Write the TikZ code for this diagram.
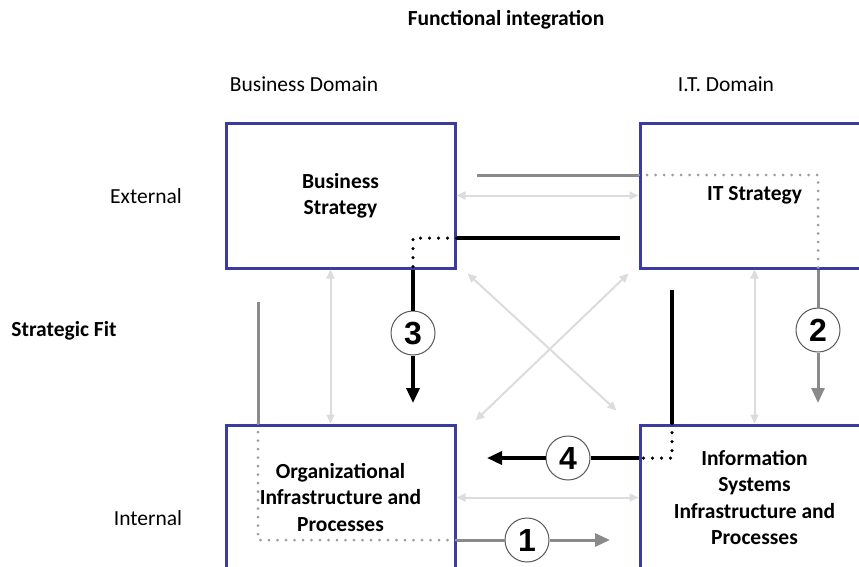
\documentclass[tikz,border=0pt]{standalone}
\usepackage{fontspec}
\setmainfont{Carlito}
\newfontfamily\numfont{Liberation Sans}
\usetikzlibrary{arrows.meta}

\definecolor{boxblue}{HTML}{3C3C9E}
\definecolor{midgray}{HTML}{8A8A8A}
\definecolor{palegray}{HTML}{DCDCDC}

\begin{document}
\begin{tikzpicture}[x=1pt,y=-1pt,>={Triangle[length=15pt,width=13pt]},
                    font=\fontsize{21.5}{26}\selectfont]
  \tikzstyle{dombox}=[draw=boxblue,line width=3pt,fill=white,
                      minimum width=229pt,minimum height=145pt,align=center,
                      font=\fontsize{21.5}{26.3}\selectfont\bfseries]
  \tikzstyle{numdisk}=[circle,draw=black!65,line width=1pt,fill=white,
                   minimum size=44pt,inner sep=0pt,
                   font=\numfont\fontsize{32}{32}\selectfont\bfseries]
  \tikzstyle{fitlink}=[draw=palegray,line width=2pt,
                    arrows={Triangle[length=9pt,width=8pt]-Triangle[length=9pt,width=8pt]}]
  \tikzstyle{gline}=[draw=midgray,line width=3pt]
  \tikzstyle{bline}=[draw=black,line width=3.5pt]
  \tikzstyle{gdots}=[draw=midgray!85,line width=3pt,line cap=round,
                     dash pattern=on 0pt off 8.5pt]
  \tikzstyle{bdots}=[draw=black,line width=3.5pt,line cap=round,
                     dash pattern=on 0pt off 9pt]

  \useasboundingbox (0,0) rectangle (859,566);
  \clip (0,0) rectangle (859,566);

  % headings
  \node (title) at (506,20)  {\bfseries Functional integration};
  \node (bdom)  at (304,84)  {Business Domain};
  \node (itdom) at (726,84)  {I.T. Domain};
  \node (ext)   at (146,196) {External};
  \node (fit)   at (64,331)  {\bfseries Strategic Fit};
  \node (int)   at (148,518) {Internal};

  % the four domains
  \node[dombox] (BS)  at (340.5,195.5) {Business\\Strategy};
  \node[dombox] (ITS) at (754.5,195.5) {IT Strategy};
  \node[dombox] (OI)  at (340.5,497.5) {Organizational\\Infrastructure and\\Processes};
  \node[dombox] (IS)  at (754.5,497.5) {Information\\Systems\\Infrastructure and\\Processes};

  % links between domains
  \draw[fitlink] (BS.east) -- (ITS.west);
  \draw[fitlink] (OI.east) -- (IS.west);
  \draw[fitlink] ([xshift=-10pt]BS.south) -- ([xshift=-10pt]OI.north);
  \draw[fitlink] (ITS.south) -- (IS.north);
  \draw[fitlink] ([shift={(11,4)}]BS.south east) -- ([shift={(-22,-13)}]IS.north west);
  \draw[fitlink] ([shift={(-10,4)}]ITS.south west) -- ([shift={(19,-3)}]OI.north east);

  % perspective 2
  \coordinate (s2) at (477,175);
  \coordinate (k2) at (818,175);
  \coordinate (e2) at (818,403);
  \node[numdisk] (n2) at (818,330) {2};
  \draw[gline] (s2) -- (s2 -| ITS.west);
  \draw[gdots] (s2 -| ITS.west) -- (k2) -- (k2 |- ITS.south);
  \draw[gline] (k2 |- ITS.south) -- (n2);
  \draw[gline,->] (n2) -- (e2);

  % perspective 3
  \coordinate (s3) at (620,238);
  \coordinate (k3) at (413,238);
  \coordinate (e3) at (413,403);
  \node[numdisk] (n3) at (413,333) {3};
  \draw[bline] (s3) -- (s3 -| BS.east);
  \draw[bdots] (s3 -| BS.east) -- (k3) -- (k3 |- BS.south);
  \draw[bline] (k3 |- BS.south) -- (n3);
  \draw[bline,->] (n3) -- (e3);

  % perspective 4
  \coordinate (s4) at (672,290);
  \coordinate (k4) at (672,458);
  \coordinate (e4) at (487,458);
  \node[numdisk] (n4) at (568,458) {4};
  \draw[bline] (s4) -- (s4 |- IS.north);
  \draw[bdots] (s4 |- IS.north) -- (k4) -- (k4 -| IS.west);
  \draw[bline] (k4 -| IS.west) -- (n4);
  \draw[bline,->] (n4) -- (e4);

  % perspective 1
  \coordinate (s1) at (258,302);
  \coordinate (k1) at (258,540);
  \coordinate (e1) at (610,540);
  \node[numdisk] (n1) at (527,540) {1};
  \draw[gline] (s1) -- (s1 |- OI.north);
  \draw[gdots] (s1 |- OI.north) -- (k1) -- (k1 -| OI.east);
  \draw[gline] (k1 -| OI.east) -- (n1);
  \draw[gline,->] (n1) -- (e1);
\end{tikzpicture}
\end{document}
